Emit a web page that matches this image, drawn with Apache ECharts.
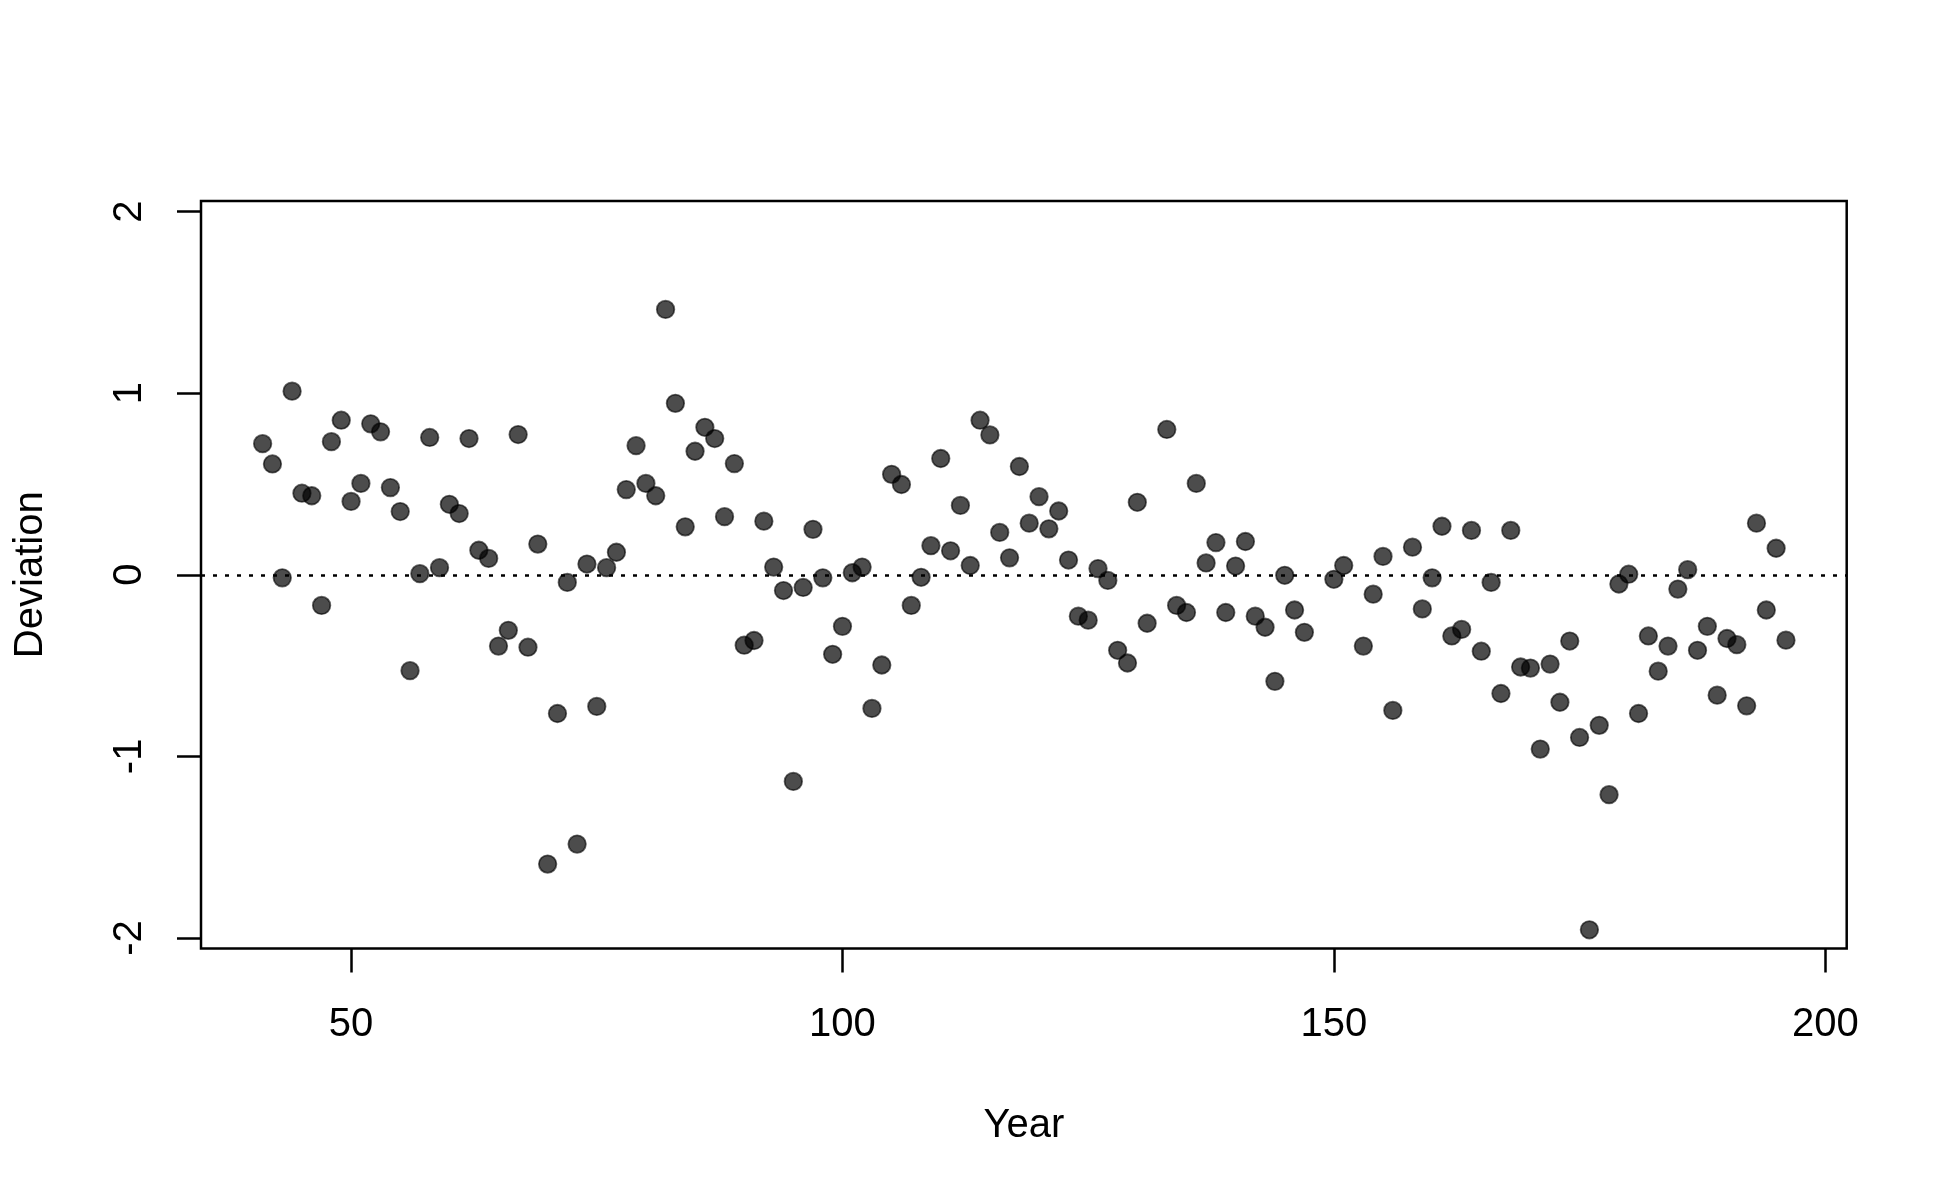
<!DOCTYPE html>
<html>
<head>
<meta charset="utf-8">
<script src="https://cdn.jsdelivr.net/npm/echarts@6/dist/echarts.min.js"></script>
<style>
html, body { margin: 0; padding: 0; background: #fff; }
#chart { width: 1950px; height: 1200px; }
</style>
</head>
<body>
<div id="chart"></div>
<script>
// Years (some years missing in the record)
const years = [
  41,42,43,44,45,46,47,48,49,50,51,52,53,54,55,56,57,58,59,60,
  61,62,63,64,65,66,67,68,69,70,71,72,73,74,75,76,77,78,79,80,
  81,82,83,84,85,86,87,88,89,90,91,92,93,94,95,96,97,98,99,100,
  101,102,103,104,105,106,107,108,109,110,111,112,113,114,115,116,117,118,119,120,
  121,122,123,124,125,126,127,128,129,130,131,133,134,135,136,137,138,139,140,
  141,142,143,144,145,146,147,150,151,153,154,155,156,158,159,160,
  161,162,163,164,165,166,167,168,169,170,171,172,173,174,175,176,177,178,179,180,
  181,182,183,184,185,186,187,188,189,190,191,192,193,194,195,196
];
// Deviation values
const deviation = [
  0.722,0.610,-0.017,1.011,0.449,0.435,-0.169,0.733,0.851,0.404,
  0.503,0.831,0.787,0.480,0.348,-0.528,0.006,0.756,0.039,0.388,
  0.337,0.750,0.135,0.090,-0.393,-0.306,0.772,-0.399,0.169,-1.593,
  -0.764,-0.042,-1.483,0.059,-0.725,0.039,0.124,0.469,0.711,0.503,
  0.435,1.461,0.944,0.264,0.680,0.812,0.750,0.320,0.612,-0.388,
  -0.362,0.295,0.042,-0.087,-1.138,-0.070,0.250,-0.017,-0.438,-0.284,
  0.011,0.042,-0.736,-0.497,0.553,0.497,-0.169,-0.014,0.160,0.640,
  0.132,0.382,0.051,0.851,0.770,0.233,0.093,0.596,0.284,0.430,
  0.253,0.351,0.081,-0.228,-0.250,0.034,-0.031,-0.416,-0.486,0.399,
  -0.267,0.800,-0.169,-0.208,0.503,0.065,0.177,-0.208,0.048,
  0.183,-0.228,-0.289,-0.587,-0.003,-0.194,-0.317,-0.025,0.051,-0.393,
  -0.107,0.101,-0.747,0.152,-0.188,-0.017,
  0.267,-0.337,-0.301,0.244,-0.421,-0.042,-0.654,0.244,-0.508,-0.514,
  -0.960,-0.492,-0.702,-0.365,-0.896,-1.955,-0.829,-1.211,-0.051,0.003,
  -0.764,-0.337,-0.531,-0.393,-0.079,0.028,-0.416,-0.284,-0.663,-0.351,
  -0.385,-0.722,0.284,-0.194,0.146,-0.360
];
const xTicks = [50, 100, 150, 200];
const yTicks = [-2, -1, 0, 1, 2];
const referenceLevel = 0;

const FONT = "'Liberation Sans', Arial, Helvetica, sans-serif";
const points = years.map((y, i) => [y, deviation[i]]);

const chart = echarts.init(document.getElementById('chart'), null, { renderer: 'canvas' });
chart.setOption({
  animation: false,
  backgroundColor: '#ffffff',
  grid: {
    left: 201, right: 103.3, top: 201, bottom: 251.5,
    show: true, borderColor: '#000', borderWidth: 2.5,
    backgroundColor: 'transparent',
    containLabel: false, outerBoundsMode: 'none'
  },
  xAxis: {
    type: 'value', min: 34.73, max: 202.18, position: 'bottom',
    name: 'Year', nameLocation: 'middle', nameGap: 157,
    nameTextStyle: { fontSize: 40, color: '#000', fontFamily: FONT },
    axisLine: { show: false, onZero: false },
    splitLine: { show: false },
    axisTick: { show: true, inside: false, length: 24, customValues: xTicks, lineStyle: { color: '#000', width: 2.5 } },
    axisLabel: { show: true, customValues: xTicks, margin: 56, fontSize: 40, color: '#000', fontFamily: FONT }
  },
  yAxis: {
    type: 'value', min: -2.058, max: 2.058, position: 'left',
    name: 'Deviation', nameLocation: 'middle', nameGap: 150, nameRotate: 90,
    nameTextStyle: { fontSize: 40, color: '#000', fontFamily: FONT },
    axisLine: { show: false, onZero: false },
    splitLine: { show: false },
    axisTick: { show: true, inside: false, length: 24, customValues: yTicks, lineStyle: { color: '#000', width: 2.5 } },
    axisLabel: { show: true, customValues: yTicks, rotate: 90, margin: 51, fontSize: 40, color: '#000', fontFamily: FONT }
  },
  series: [
    {
      type: 'scatter',
      data: points,
      symbol: 'circle',
      symbolSize: 17.5,
      z: 2,
      itemStyle: { color: 'rgba(0,0,0,0.7)', borderColor: 'rgba(0,0,0,0.6)', borderWidth: 1.8, opacity: 1 },
      emphasis: { disabled: true }
    },
    {
      type: 'line',
      data: [],
      z: 10,
      silent: true,
      markLine: {
        silent: true,
        symbol: ['none', 'none'],
        label: { show: false },
        lineStyle: { color: '#000', width: 2.5, type: [4, 8] },
        emphasis: { disabled: true },
        data: [{ yAxis: referenceLevel }]
      }
    }
  ]
});
</script>
</body>
</html>
